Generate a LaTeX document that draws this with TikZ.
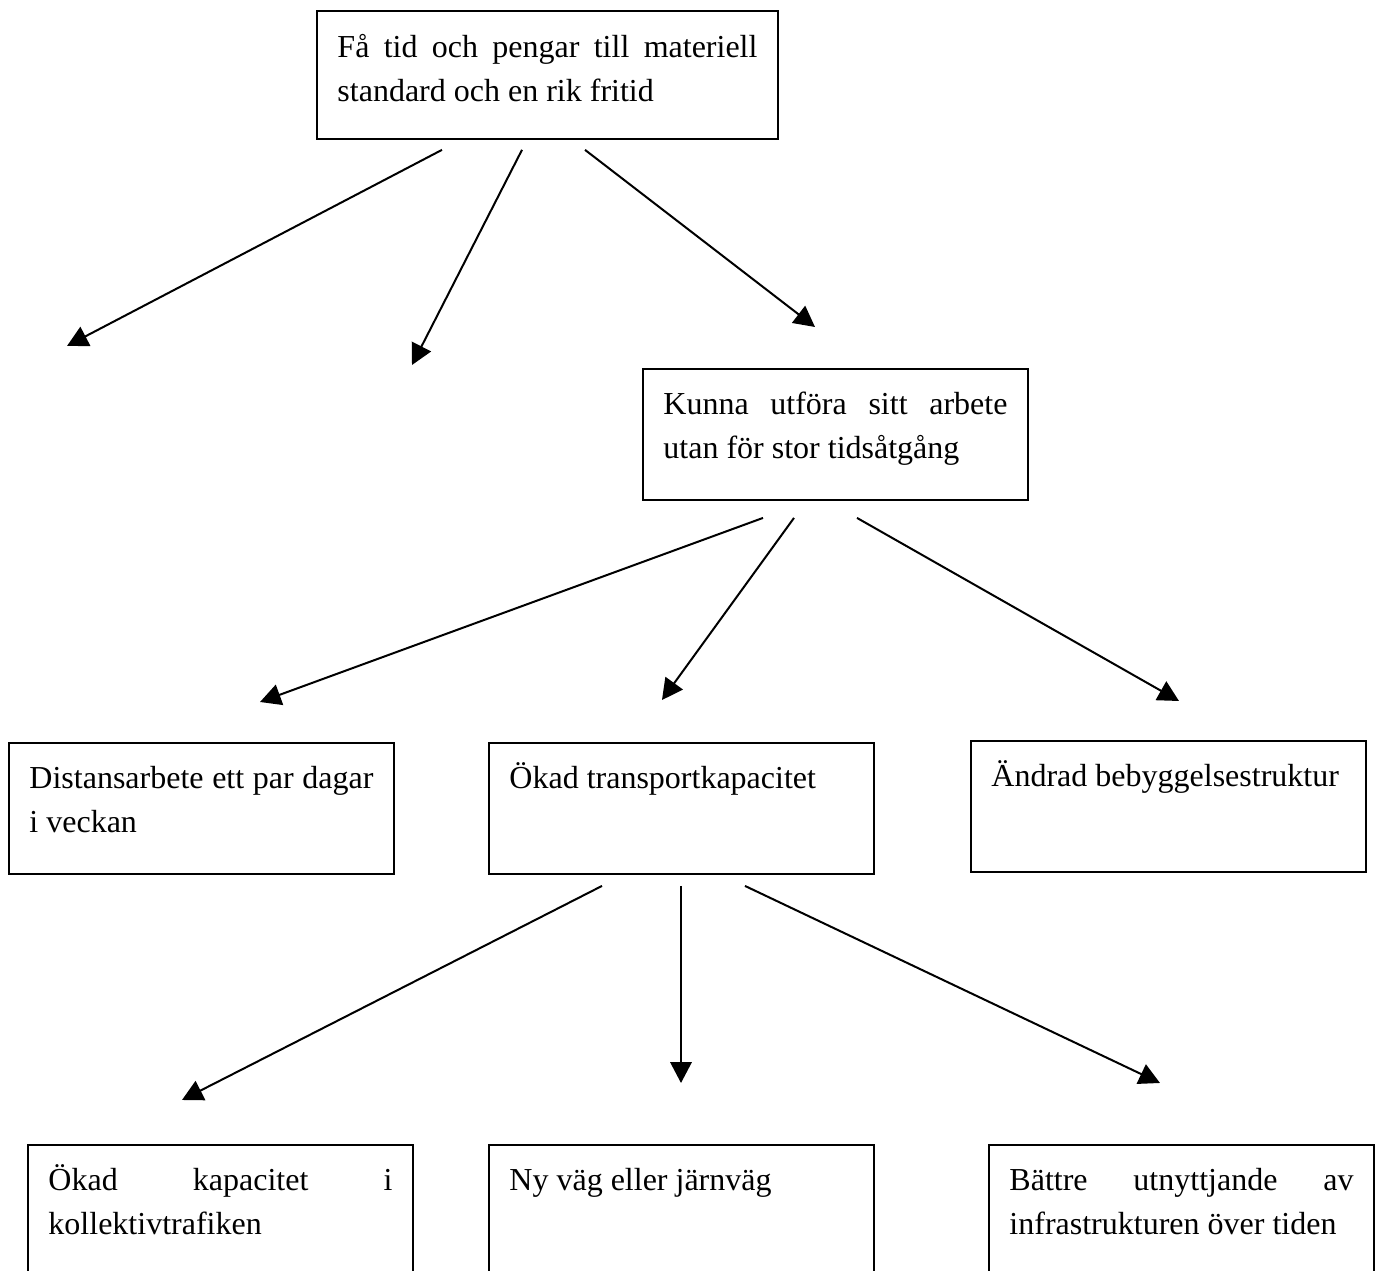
\documentclass[tikz,border=0pt]{standalone}
\usepackage{fontspec}
\setmainfont{Liberation Serif}
\usepackage{tikz}
\usetikzlibrary{arrows.meta}
\usetikzlibrary{calc}
\hyphenpenalty=10000
\exhyphenpenalty=10000
\tolerance=10000

\begin{document}
\begin{tikzpicture}
	[x=0.375pt, y=-0.375pt,
	box/.style={draw, line width=0.7pt, anchor=north west, align=justify,
		inner xsep=7.7pt, inner ysep=0pt, text width=129pt,
		text height=17.25pt, text depth=31.9pt,
		font=\fontsize{12pt}{16.5pt}\selectfont},
	arr/.style={line width=0.75pt, -{Triangle[length=7.8pt, width=8pt]}}]
	\useasboundingbox (0,0) rectangle (1380,1271);
	\node[box, text width=157.5pt, text height=17.6pt, text depth=30.4pt] (tid) at (316,10) {Få tid och pengar till materiell standard och en rik fritid};
	\node[box] (kunna) at (642,368) {Kunna utföra sitt arbete utan för stor tidsåtgång};
	\node[box] (distans) at (8,742) {Distansarbete ett par dagar i veckan};
	\node[box] (okad) at (488,742) {Ökad transportkapacitet};
	\node[box, text width=132.75pt] (andrad) at (970,740) {Ändrad bebyggelsestruktur};
	\node[box, text depth=39.4pt] (kollektiv) at (27,1144) {Ökad kapacitet i kollektivtrafiken};
	\node[box, text depth=39.4pt] (nyvag) at (488,1144) {Ny väg eller järnväg};
	\node[box, text depth=39.4pt] (battre) at (988,1144) {Bättre utnyttjande av infrastrukturen över tiden};
	\coordinate (fri1) at (67,346);
	\coordinate (fri2) at (412,365);
	\draw[arr] ($(tid.south west)+(126,10)$) -- (fri1);
	\draw[arr] ($(tid.south west)+(206,10)$) -- (fri2);
	\draw[arr] ($(tid.south west)+(269,10)$) -- ($(kunna.north west)+(173,-41)$);
	\draw[arr] ($(kunna.south west)+(121,17)$) -- ($(distans.north west)+(252,-40)$);
	\draw[arr] ($(kunna.south west)+(152,17)$) -- ($(okad.north west)+(174,-42)$);
	\draw[arr] ($(kunna.south west)+(215,17)$) -- ($(andrad.north west)+(209,-39)$);
	\draw[arr] ($(okad.south west)+(114,11)$) -- ($(kollektiv.north west)+(155,-44)$);
	\draw[arr] ($(okad.south west)+(193,11)$) -- ($(nyvag.north west)+(193,-61)$);
	\draw[arr] ($(okad.south west)+(257,11)$) -- ($(battre.north west)+(172,-61)$);
\end{tikzpicture}
\end{document}
